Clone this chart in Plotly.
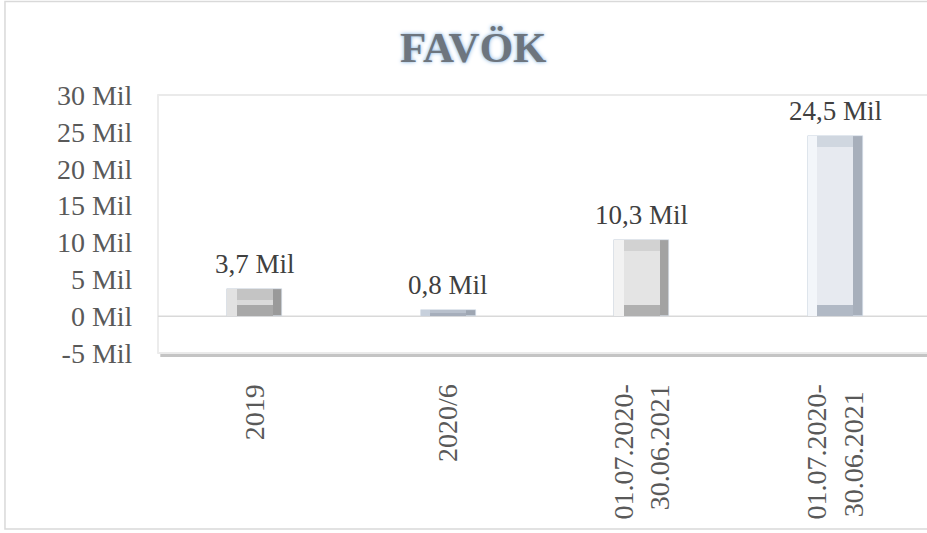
import plotly.graph_objects as go

categories = ["2019", "2020/6", "01.07.2020-<br>30.06.2021", "01.07.2020-<br>30.06.2021 "]
values = [3.7, 0.8, 10.3, 24.5]
labels = ["3,7 Mil", "0,8 Mil", "10,3 Mil", "24,5 Mil"]
tick_vals = [-5, 0, 5, 10, 15, 20, 25, 30]
tick_text = ["-5 Mil", "0 Mil", "5 Mil", "10 Mil", "15 Mil", "20 Mil", "25 Mil", "30 Mil"]

# bevel colours per bar
right_colors = ["#9a9a9a", "#9ea6b2", "#a2a2a2", "#a7afbb"]
left_colors = ["#e2e2e2", "#c7d0dc", "#f2f2f2", "#f3f6fa"]
top_colors = ["#c4c4c4", "#b8c0cc", "#d2d2d2", "#d0d7e0"]
bottom_colors = ["#a8a8a8", "#a6aebb", "#b0b0b0", "#b1b9c5"]
face_colors = ["#dadada", "#c0c8d2", "#e4e4e4", "#e7eaf0"]

W = 0.285   # bar width (category units)
BX = 0.05   # bevel width (category units)
BY = 1.5    # bevel height (value units)

by_eff = [min(BY, v / 2) for v in values]
face_h = [max(v - 2 * b, 0) for v, b in zip(values, by_eff)]

FONT = "Liberation Serif"

fig = go.Figure()


def add_bar(y, color, width, offset, base=None, line=None):
    fig.add_trace(go.Bar(
        x=categories, y=y, base=base, width=width, offset=offset,
        marker=dict(color=color, line=line or dict(width=0)),
        hoverinfo="skip", showlegend=False,
    ))


add_bar(values, right_colors, W, -W / 2, line=dict(color="#d6e2ee", width=0.6))
add_bar(values, left_colors, W - BX, -W / 2)
add_bar(values, top_colors, W - 2 * BX, -W / 2 + BX)
add_bar(by_eff, bottom_colors, W - 2 * BX, -W / 2 + BX)
add_bar(face_h, face_colors, W - 2 * BX, -W / 2 + BX, base=by_eff)

for i, (v, t) in enumerate(zip(values, labels)):
    fig.add_annotation(x=i, y=v, text=t, showarrow=False, yanchor="bottom",
                       yshift=8, font=dict(family=FONT, size=27, color="#404040"))

shapes = [
    # outer chart border
    dict(type="rect", xref="paper", yref="paper", x0=-0.199, x1=1.02, y0=-0.682, y1=1.362,
         line=dict(color="#d9d9d9", width=1.5), fillcolor="rgba(0,0,0,0)", layer="below"),
    # plot area box
    dict(type="rect", xref="paper", yref="paper", x0=0, x1=1.02, y0=0, y1=1,
         line=dict(color="#e3e3e3", width=1.5), fillcolor="rgba(0,0,0,0)", layer="below"),
    # plot area shadow
    dict(type="rect", xref="paper", yref="paper", ysizemode="pixel", yanchor=0,
         x0=0.003, x1=1.02, y0=-4, y1=-1, line=dict(width=0), fillcolor="#c4c4c4", layer="below"),
    dict(type="rect", xref="paper", yref="paper", xsizemode="pixel", xanchor=0,
         x0=-1, x1=1, y0=0, y1=1, line=dict(width=0), fillcolor="#ececec", layer="below"),
    # zero line
    dict(type="line", xref="paper", yref="y", x0=0, x1=1, y0=0, y1=0,
         line=dict(color="#d9d9d9", width=1.5), layer="below"),
]

fig.update_layout(
    width=927, height=533,
    margin=dict(l=158, r=0, t=95, b=180),
    paper_bgcolor="white", plot_bgcolor="white",
    barmode="overlay", bargap=0,
    shapes=shapes,
    title=dict(text="<b>FAVÖK</b>", x=0.41, xref="paper", y=1 - 47 / 533, yref="container",
               xanchor="center", yanchor="middle",
               font=dict(family=FONT, size=43, color="#6d757e",
                         shadow="0px 0px 4px #8fb8e0, 0px 0px 2px #b7d3ee")),
    xaxis=dict(type="category", range=[-0.5, 3.474], tickangle=-90, showgrid=False,
               zeroline=False, showline=False, ticks="outside", ticklen=19,
               tickcolor="rgba(0,0,0,0)",
               tickfont=dict(family=FONT, size=28, color="#595959")),
    yaxis=dict(range=[-5, 30], tickvals=tick_vals, ticktext=tick_text, showgrid=False,
               zeroline=False, showline=False, ticks="outside", ticklen=19,
               tickcolor="rgba(0,0,0,0)",
               tickfont=dict(family=FONT, size=28, color="#595959")),
)

fig.write_html("out.html", config={"displayModeBar": False},
               post_script="document.body.style.margin='0';")
